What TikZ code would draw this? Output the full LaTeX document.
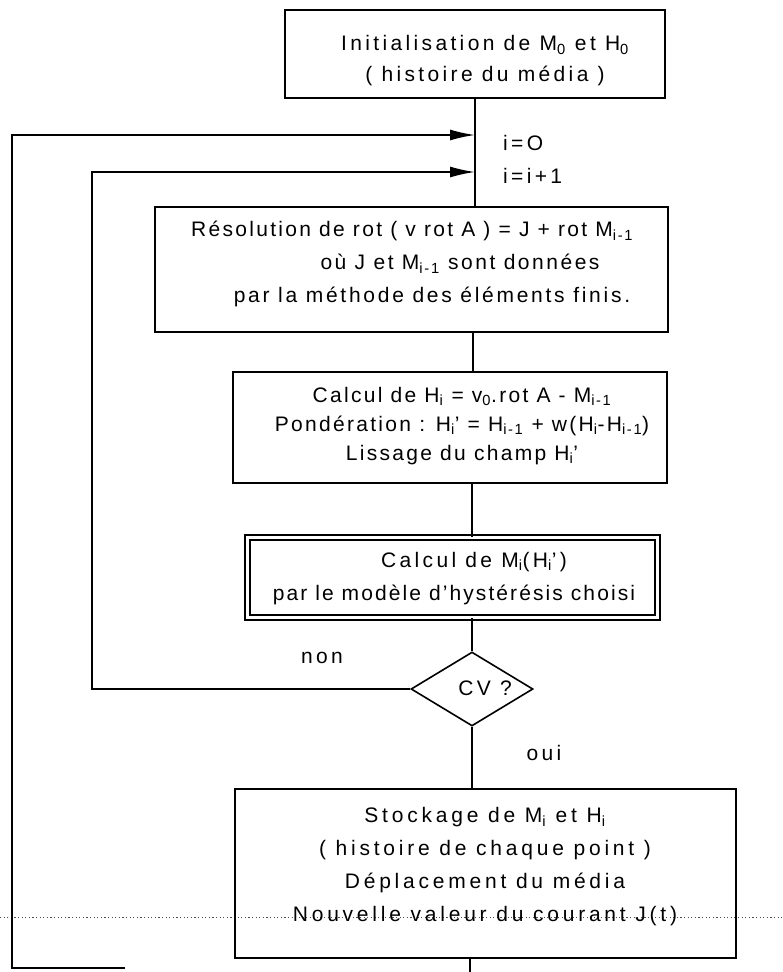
\documentclass[tikz,border=0pt]{standalone}
\usepackage{fontspec}
\setmainfont{Liberation Sans}[LetterSpace=16]
\usetikzlibrary{arrows.meta,shapes.geometric,calc}
\newcommand\sbs[1]{\textsubscript{#1}}
\newcommand\lsp[1]{\addfontfeature{LetterSpace=#1}}
\begin{document}
\begin{tikzpicture}[x=1pt,y=-1pt,
  box/.style={draw,line width=1.6pt,inner sep=0pt},
  txt/.style={align=center,inner sep=0pt,font=\fontsize{21}{32}\selectfont},
  link/.style={line width=1.6pt},
  arr/.style={line width=1.6pt,-{Latex[length=25pt,width=11pt]}},
  fold/.style={gray!60!black,line width=0.8pt,dash pattern=on 1.2pt off 2.4pt}]
\useasboundingbox (0,0) rectangle (782,972);

% scanner fold (dotted line)
\draw[fold] (0,917) -- (782,917);

% boxes
\node[box,minimum width=380pt,minimum height=88pt] (init) at (475,54) {};
\node[txt,font=\fontsize{21}{31}\selectfont] (initT) at (485,61) {Initialisation de M\sbs{0} et H\sbs{0}\\( histoire du média )};

\node[txt,anchor=west] (i0) at (503,143) {i=O};
\node[txt,anchor=west] (i1) at (503,176) {i=i+1};

\node[box,minimum width=513pt,minimum height=125pt] (res) at (411.5,269.5) {};
\node[txt,font=\fontsize{21}{32}\selectfont\lsp{11}] (res1) at (412,231) {Résolution de rot ( v rot A ) = J + rot M\sbs{i-1}};
\node[txt,font=\fontsize{21}{32}\selectfont\lsp{12}] (res2) at (460,264) {où J et M\sbs{i-1} sont données};
\node[txt,font=\fontsize{21}{32}\selectfont\lsp{13}] (res3) at (432,297) {par la méthode des éléments finis.};

\node[box,minimum width=434pt,minimum height=111pt] (calc) at (450,427.5) {};
\node[txt,font=\fontsize{21}{29}\selectfont\lsp{11}] (calcT) at (462,426) {Calcul de H\sbs{i} = v\sbs{0}.rot A - M\sbs{i-1}\\Pondération : H\sbs{i}' = H\sbs{i-1} + w(H\sbs{i}-H\sbs{i-1})\\Lissage du champ H\sbs{i}'};

\node[box,double,double distance=3.5pt,minimum width=410pt,minimum height=80pt] (hyst) at (452.5,577.5) {};
\node[txt] (hyst1) at (474,562) {Calcul de M\sbs{i}(H\sbs{i}')};
\node[txt,font=\fontsize{21}{32}\selectfont\lsp{10}] (hyst2) at (454,595) {par le modèle d'hystérésis choisi};

\node[box,diamond,minimum width=122pt,minimum height=74pt] (cv) at (472,689) {};
\node[txt] (cvT) at (485,688) {CV ?};
\node[txt] (non) at (322,658) {non};
\node[txt] (oui) at (544,753) {oui};

\node[box,minimum width=501pt,minimum height=169pt] (stock) at (485.5,873.5) {};
\node[txt,font=\fontsize{21}{33}\selectfont\lsp{18}] (stockT) at (485,867) {Stockage de M\sbs{i} et H\sbs{i}\\( histoire de chaque point )\\Déplacement du média\\Nouvelle valeur du courant J(t)};

% main flow
\coordinate (j0) at (475,135);
\coordinate (j1) at (475,172);
\draw[link] (init.south) -- (init.south |- res.north);
\draw[link] (473,0 |- res.south) -- (473,0 |- calc.north);
\draw[link] (472,0 |- calc.south) -- (472,0 |- hyst.north);
\draw[link] (472,0 |- hyst.south) -- (cv.north);
\draw[link] (cv.south) -- (cv.south |- stock.north);
\coordinate (sb) at (470,972);
\draw[link] (470,0 |- stock.south) -- (sb);

% inner loop (non)
\coordinate (c1) at (92,689);
\coordinate (c2) at (92,172);
\draw[arr] (cv.west) -- (c1) -- (c2) -- (j1);

% outer loop
\coordinate (o0) at (125,968);
\coordinate (o1) at (12,968);
\coordinate (o2) at (12,135);
\draw[arr] (o0) -- (o1) -- (o2) -- (j0);
\end{tikzpicture}
\end{document}
